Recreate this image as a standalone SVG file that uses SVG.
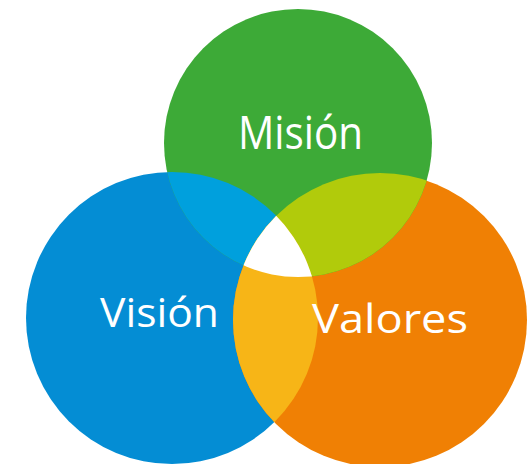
<svg xmlns="http://www.w3.org/2000/svg" width="531" height="464" viewBox="0 0 531 464">
  <style>
    .lbl { font-family: "Open Sans", "Liberation Sans", sans-serif; fill: #ffffff; text-anchor: middle; }
  </style>
  <defs>
    <clipPath id="cG"><circle cx="298" cy="143" r="134"/></clipPath>
    <clipPath id="cB"><circle cx="172" cy="318" r="146"/></clipPath>
    <clipPath id="cO"><circle cx="380" cy="320" r="147"/></clipPath>
  </defs>
  <rect width="531" height="464" fill="#ffffff"/>
  <g id="vision">
    <circle cx="172" cy="318" r="146" fill="#048dd4"/>
  </g>
  <g id="valores">
    <circle cx="380" cy="320" r="147" fill="#f08004"/>
  </g>
  <g id="mision">
    <circle cx="298" cy="143" r="134" fill="#3daa37"/>
  </g>
  <g id="overlaps">
    <g clip-path="url(#cG)"><circle cx="172" cy="318" r="146" fill="#00a0dd"/></g>
    <g clip-path="url(#cG)"><circle cx="380" cy="320" r="147" fill="#b1cb0b"/></g>
    <g clip-path="url(#cB)"><circle cx="380" cy="320" r="147" fill="#f7b517"/></g>
    <g clip-path="url(#cG)"><g clip-path="url(#cB)"><circle cx="380" cy="320" r="147" fill="#ffffff"/></g></g>
  </g>
  <g id="labels">
    <text class="lbl" x="300.5" y="149" font-size="46" textLength="125" lengthAdjust="spacingAndGlyphs">Misión</text>
    <text class="lbl" x="159.5" y="327" font-size="41" textLength="119" lengthAdjust="spacingAndGlyphs">Visión</text>
    <text class="lbl" x="390" y="333" font-size="40" textLength="156" lengthAdjust="spacingAndGlyphs">Valores</text>
  </g>
</svg>
